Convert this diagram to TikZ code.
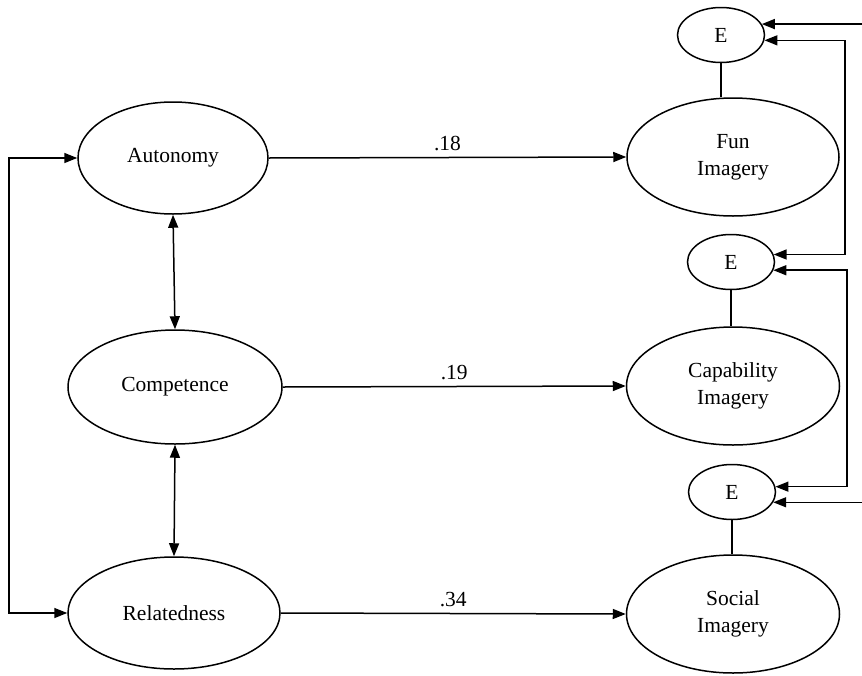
\documentclass[tikz,border=0pt]{standalone}
\usepackage{fontspec}
\setmainfont{Liberation Serif}
\usetikzlibrary{shapes.geometric,arrows.meta}
\begin{document}
\begin{tikzpicture}[x=1pt,y=-1pt,
  lat/.style={ellipse,draw,line width=1.5pt,inner sep=0pt,align=center,font=\fontsize{21.5}{27}\selectfont},
  err/.style={ellipse,draw,line width=1.5pt,inner sep=0pt,minimum width=87pt,minimum height=55pt,font=\fontsize{21.5}{24}\selectfont},
  con/.style={line width=1.5pt},
  arr/.style={con,-{Triangle[length=13pt,width=10pt]}},
  dbl/.style={con,{Triangle[length=13pt,width=10pt]}-{Triangle[length=13pt,width=10pt]}},
  lab/.style={font=\fontsize{21.5}{24}\selectfont}]
\useasboundingbox (0,0) rectangle (862,675);
% left latent variables
\node[lat,minimum width=190pt,minimum height=112pt] (aut) at (173,158) {Autonomy};
\node[lat,minimum width=214pt,minimum height=114pt] (com) at (175,387) {Competence};
\node[lat,minimum width=212pt,minimum height=112pt] (rel) at (174,613) {Relatedness};
% right latent variables
\node[lat,minimum width=212pt,minimum height=118pt] (fun) at (733,157) {Fun\\Imagery};
\node[lat,minimum width=213pt,minimum height=118pt] (cap) at (733,386) {Capability\\Imagery};
\node[lat,minimum width=213pt,minimum height=118pt] (soc) at (733,614) {Social\\Imagery};
% error terms
\node[err] (e1) at (721,35) {E};
\node[err] (e2) at (731,262) {E};
\node[err] (e3) at (732,492) {E};
% paths
\draw[arr] (aut.east) -- node[lab,above=3pt] {.18} (fun.west);
\draw[arr] (com.east) -- node[lab,above=3pt] {.19} (cap.west);
\draw[arr] (rel.east) -- node[lab,above=3pt] {.34} (soc.west);
% correlations among predictors
\draw[dbl] (aut.south) -- (com.north);
\draw[dbl] (com.south) -- (rel.north);
\coordinate (lv) at (9,0);
\draw[dbl] (aut.west) -- (aut.west -| lv) -- (rel.west -| lv) -- (rel.west);
% error links
\draw[con] (e1.south) -- (e1.south |- fun.north);
\draw[con] (e2.south) -- (e2.south |- cap.north);
\draw[con] (e3.south) -- (e3.south |- soc.north);
% error covariances
\coordinate (v1) at (845,0);
\coordinate (v2) at (847,0);
\coordinate (re) at (870,0);
\draw[dbl] (e1.-7) -- (e1.-7 -| v1) |- (e2.10);
\draw[dbl] (e2.-11) -- (e2.-11 -| v2) |- (e3.7);
\draw[arr] (e1.15 -| re) -- (e1.15);
\draw[arr] (e3.-14 -| re) -- (e3.-14);
\end{tikzpicture}
\end{document}
